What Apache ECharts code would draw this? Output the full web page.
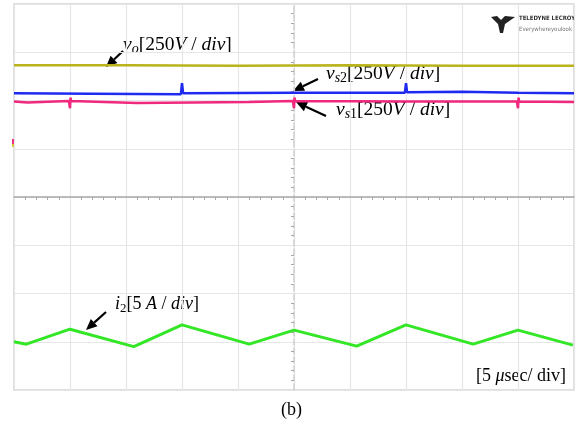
<!DOCTYPE html>
<html><head><meta charset="utf-8">
<script src="https://cdn.jsdelivr.net/npm/echarts@6/dist/echarts.min.js"></script>
<style>html,body{margin:0;padding:0;background:#fff}#c{width:584px;height:430px}</style>
</head><body><div id="c"></div>
<script>
// time axis in microseconds (5 us/div), vertical axis in divisions
const timeTicks = [-25, 25, 5];
const divTicks = [-4, 4, 1];
const vo = [[-25,2.73],[-15,2.73],[-5,2.72],[5,2.73],[15,2.72],[25,2.72]];
const vs2 = [[-25,2.15],[-18,2.14],[-10.1,2.13],[-10,2.36],[-9.9,2.15],[0,2.16],[9.9,2.16],[10,2.36],[10.1,2.17],[15,2.18],[20,2.16],[25,2.15]];
const vs1 = [[-25,1.98],[-23.8,1.96],[-20.1,1.99],[-20,1.84],[-19.95,2.06],[-19.9,1.99],[-14,1.95],[-4,1.97],[-0.1,1.99],[0,1.84],[0.05,2.06],[0.1,1.99],[10,1.98],[19.9,1.98],[20,1.84],[20.05,2.06],[20.1,1.98],[25,1.97]];
const i2 = [[-25,-3.0],[-23.9,-3.05],[-20,-2.74],[-14.3,-3.10],[-10,-2.65],[-4,-3.05],[0,-2.76],[5.6,-3.09],[10,-2.65],[16,-3.05],[20,-2.76],[24.9,-3.07]];

const serif = 'Liberation Serif';
function mk(fs){
  return {
    i:{fontFamily:serif,fontStyle:'italic',fontSize:fs,lineHeight:22,color:'#000'},
    r:{fontFamily:serif,fontSize:fs,lineHeight:22,color:'#000'},
    sub:{fontFamily:serif,fontStyle:'italic',fontSize:Math.round(fs*0.72),lineHeight:22,verticalAlign:'bottom',color:'#000'},
    subr:{fontFamily:serif,fontSize:Math.round(fs*0.72),lineHeight:22,verticalAlign:'bottom',color:'#000'}
  };
}
const richV = mk(19.5), richS = mk(18);
function arrow(x1,y1,x2,y2){
  const a=Math.atan2(y2-y1,x2-x1), L=11, W=5;
  const bx=x2-L*Math.cos(a), by=y2-L*Math.sin(a);
  const px=-Math.sin(a)*W, py=Math.cos(a)*W;
  return [
    {type:'line',shape:{x1:x1,y1:y1,x2:bx,y2:by},style:{stroke:'#000',lineWidth:2.2}},
    {type:'polygon',shape:{points:[[x2,y2],[bx+px,by+py],[bx-px,by-py]]},style:{fill:'#000'}}
  ];
}
function label(x,y,text,rich){
  return {type:'text',left:x,top:y,style:{rich:rich,text:text}};
}
const chart = echarts.init(document.getElementById('c'));
chart.setOption({
  animation:false,
  backgroundColor:'#fff',
  grid:{left:14,right:10,top:4,bottom:40,show:true,borderColor:'#d4d4d4',borderWidth:1.5},
  xAxis:{type:'value',min:timeTicks[0],max:timeTicks[1],interval:timeTicks[2],
    axisLine:{show:true,onZero:true,lineStyle:{color:'#a8a8a8',width:1.5}},
    axisTick:{show:false},
    minorTick:{show:true,splitNumber:5,length:3,lineStyle:{color:'#a8a8a8'}},
    axisLabel:{show:false},
    splitLine:{show:true,lineStyle:{color:'#e6e6e6',width:1.2}}},
  yAxis:{type:'value',min:divTicks[0],max:divTicks[1],interval:divTicks[2],
    axisLine:{show:true,onZero:true,lineStyle:{color:'#d0d0d0',width:1.5,type:'dashed'}},
    axisTick:{show:false},
    minorTick:{show:true,splitNumber:5,length:3,lineStyle:{color:'#a8a8a8'}},
    axisLabel:{show:false},
    splitLine:{show:true,lineStyle:{color:'#e6e6e6',width:1.2}}},
  series:[
    {type:'line',data:vo,showSymbol:false,lineStyle:{color:'#b9b41c',width:2.5}},
    {type:'line',data:vs1,showSymbol:false,lineStyle:{color:'#f0287e',width:2.5}},
    {type:'line',data:vs2,showSymbol:false,lineStyle:{color:'#1f2af0',width:2.5}},
    {type:'line',data:i2,showSymbol:false,lineStyle:{color:'#33e626',width:3}}
  ],
  graphic:[].concat(
    arrow(123,51,106,67),
    arrow(318,79,293,91),
    arrow(326,116,296,102),
    arrow(106,312,86,330),
    [
      label(123,35,'{i|v}{sub|o}{r|[250}{i|V}{r| / }{i|div}{r|]}',richV),
      label(326,64,'{i|v}{sub|s}{subr|2}{r|[250}{i|V}{r| / }{i|div}{r|]}',richV),
      label(336,100,'{i|v}{sub|s}{subr|1}{r|[250}{i|V}{r| / }{i|div}{r|]}',richV),
      label(115,295,'{i|i}{subr|2}{r|[5 }{i|A}{r| / }{i|div}{r|]}',richS),
      label(476,367,'{r|[5 }{i|μ}{r|sec/ div]}',richS),
      {type:'text',left:281,top:401,style:{text:'(b)',fontFamily:serif,fontSize:18,fill:'#000'}},
      {type:'polygon',shape:{points:[[491,17],[497,16],[501,20],[505,16],[515,17],[505,24],[503,33],[500,33],[498,24]]},style:{fill:'#222'}},
      {type:'text',left:519,top:15,style:{text:'TELEDYNE LECROY',fontFamily:'DejaVu Sans Condensed',fontWeight:'bold',fontSize:6,fill:'#333'}},
      {type:'text',left:519,top:26,style:{text:'Everywhereyoulook',fontFamily:'DejaVu Sans Condensed',fontSize:6,fill:'#777'}},
      {type:'rect',shape:{x:12,y:139,width:3,height:5},style:{fill:'#f0287e'}},
      {type:'rect',shape:{x:12,y:144,width:3,height:3},style:{fill:'#d8c830'}}
    ]
  )
});
</script></body></html>
